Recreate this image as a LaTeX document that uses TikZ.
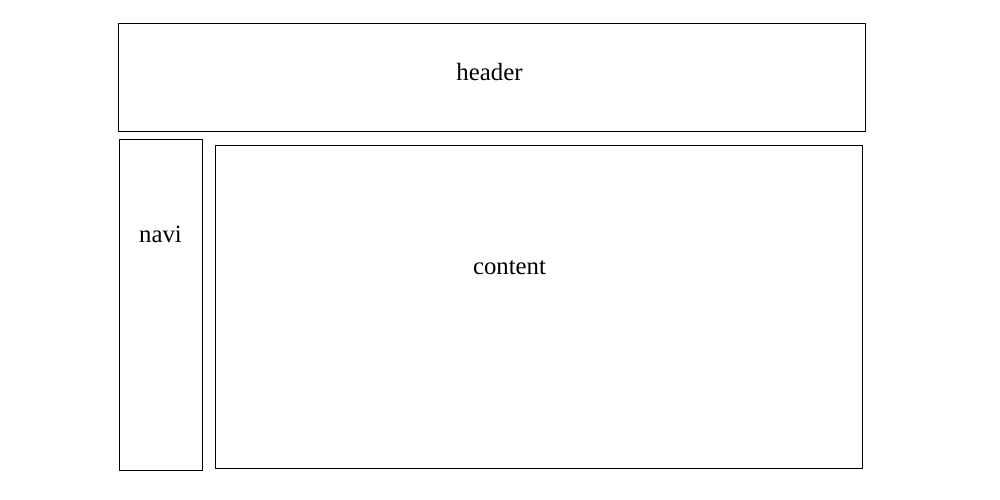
\documentclass[tikz,border=0pt]{standalone}
\usepackage{fontspec}
\setmainfont{Liberation Serif}
\usepackage{tikz}

\begin{document}
\begin{tikzpicture}[x=0.75pt,y=0.75pt,yscale=-1,xscale=1,
  box/.style={line width=0.75},
  label/.style={inner sep=0.75pt,font=\fontsize{18.6}{22}\selectfont}]
\useasboundingbox (0,0) rectangle (1000,500);

%Shape: Rectangle [id:header]
\draw [box] (118.5,23.5) rectangle (865.5,131.5) ;
%Shape: Rectangle [id:navi]
\draw [box] (119.5,139.5) rectangle (202.5,470.5) ;
%Shape: Rectangle [id:content]
\draw [box] (215.5,145.5) rectangle (862.5,468.5) ;

% Text Node
\node [label] (headertext) at (489.5,72) {header};
% Text Node
\node [label] (navitext) at (160.5,234) {navi};
% Text Node
\node [label] (contenttext) at (509.5,268) {content};

\end{tikzpicture}
\end{document}
